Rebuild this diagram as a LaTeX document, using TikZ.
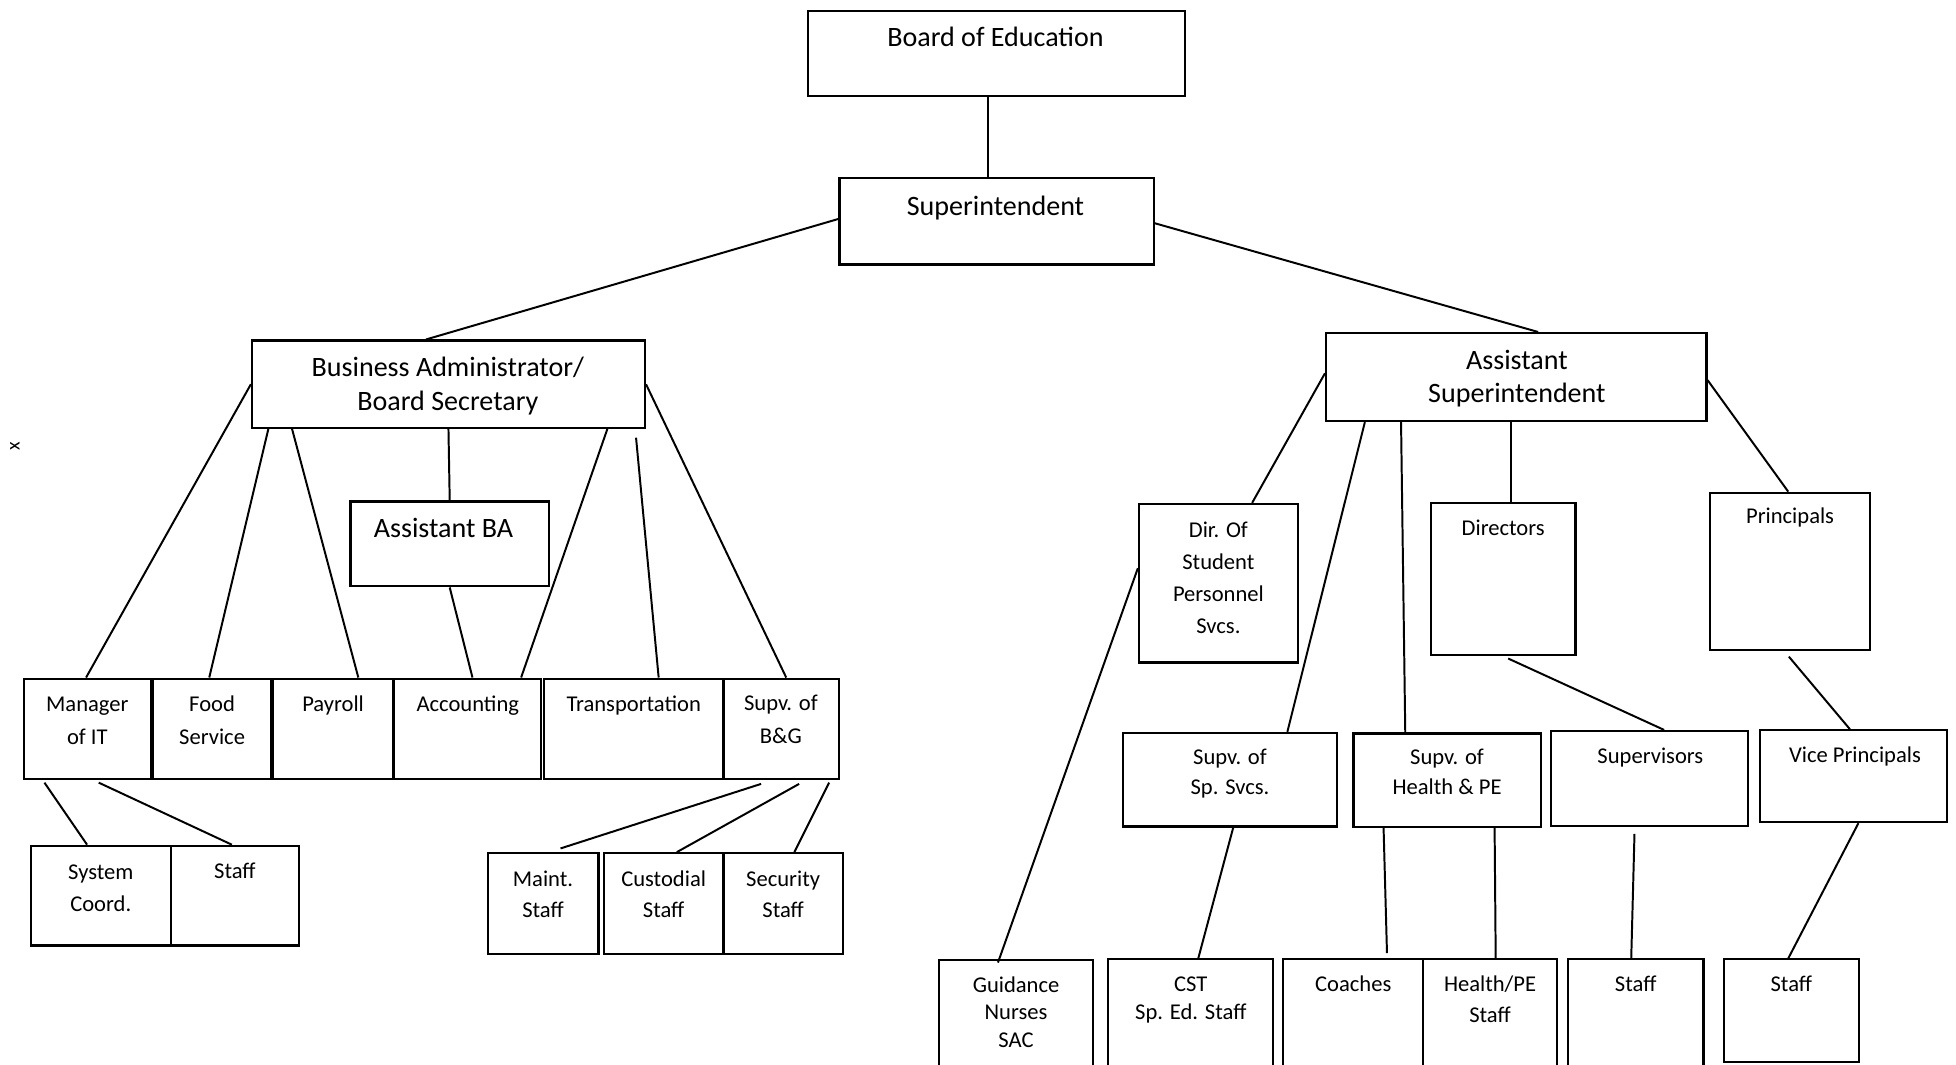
\documentclass[tikz,border=0pt]{standalone}
\usepackage{fontspec}
\setmainfont{Carlito}
\usetikzlibrary{fit,calc}
\begin{document}
\begin{tikzpicture}[x=0.02cm,y=-0.02cm,
  bx/.style={draw, inner sep=0pt, line width=1pt},
  big/.style={font=\fontsize{12.8pt}{#1pt}\selectfont, align=center, inner sep=0pt, anchor=base},
  sm/.style={font=\fontsize{10.3pt}{#1pt}\selectfont, align=center, inner sep=0pt, anchor=base},
  ln/.style={line width=0.9pt}]
\useasboundingbox[fill=white] (0,0) rectangle (1568,853);

% ---------- boxes ----------
\node[bx, fit={(648,9) (950,77)}] (board) {};
\node[bx, fit={(673,143) (925,212)}] (super) {};
\node[bx, fit={(202,273) (517,343)}] (ba) {};
\node[bx, fit={(281,402) (440,470)}] (aba) {};
\node[bx, fit={(19,544) (121,624.5)}] (mit) {};
\node[bx, fit={(122.5,544) (217,624.5)}] (food) {};
\node[bx, fit={(219,544) (315.5,624.5)}] (pay) {};
\node[bx, fit={(315.5,544) (434,624.5)}] (acc) {};
\node[bx, fit={(436,544) (580,624.5)}] (trans) {};
\node[bx, fit={(580,544) (672.5,624.5)}] (bg) {};
\node[bx, fit={(24.6,678) (137,758)}] (sys) {};
\node[bx, fit={(137,678) (239.7,758)}] (stfa) {};
\node[bx, fit={(391,684) (479.7,765)}] (maint) {};
\node[bx, fit={(484,684) (580,765)}] (cust) {};
\node[bx, fit={(580,684) (675.6,765)}] (sec) {};

\node[bx, fit={(1063,267) (1368,337.5)}] (asupt) {};
\node[bx, fit={(913,404) (1040.5,531)}] (dsp) {};
\node[bx, fit={(1147,403) (1263,525)}] (dirs) {};
\node[bx, fit={(1371,395) (1499,521)}] (princ) {};
\node[bx, fit={(900.5,587.5) (1071.5,662.5)}] (ssp) {};
\node[bx, fit={(1085,588) (1235,663)}] (she) {};
\node[bx, fit={(1243,586) (1401.5,662)}] (sups) {};
\node[bx, fit={(1411,585.5) (1560.5,659)}] (vp) {};
\node[bx, fit={(753,769.5) (876,857)}] (guid) {};
\node[bx, fit={(888.5,769) (1020.7,857)}] (cst) {};
\node[bx, fit={(1028.7,769) (1141,857)}] (coach) {};
\node[bx, fit={(1141,769) (1248,857)}] (hpe) {};
\node[bx, fit={(1257,769) (1365.5,857)}] (stfc) {};
\node[bx, fit={(1382,769) (1490,851.5)}] (stfd) {};

% ---------- texts (anchor = baseline of the last line) ----------
\node[big=15.3] (board-t) at (798,37.5) {Board of Education};
\node[big=15.3] (super-t) at (798,172.5) {Superintendent};
\node[big=15.3] (ba-t) at (359,329) {Business Administrator/\\Board Secretary};
\node[big=15.3] (aba-t) at (355.5,431) {Assistant BA};
\node[big=15.0] (asupt-t) at (1216,322.5) {Assistant\\Superintendent};

\node[sm=15.0] (mit-t) at (70,596.5) {Manager\\of IT};
\node[sm=15.0] (food-t) at (170,596.5) {Food\\Service};
\node[sm=15.0] (pay-t) at (267,570) {Payroll};
\node[sm=15.0] (acc-t) at (375,570) {Accounting};
\node[sm=15.0] (trans-t) at (508,570) {Transportation};
\node[sm=15.0] (bg-t) at (626,596) {Supv. of\\B\&G};
\node[sm=14.9] (sys-t) at (80.8,730.9) {System\\Coord.};
\node[sm=14.9] (stfa-t) at (188.3,704) {Staff};
\node[sm=13.9] (maint-t) at (435.3,735.4) {Maint.\\Staff};
\node[sm=13.9] (cust-t) at (532,735.4) {Custodial\\Staff};
\node[sm=13.9] (sec-t) at (627.8,735.4) {Security\\Staff};

\node[sm=14.7] (dsp-t) at (976.7,508) {Dir. Of\\Student\\Personnel\\Svcs.};
\node[sm=14.7] (dirs-t) at (1205,429) {Directors};
\node[sm=14.7] (princ-t) at (1435,420) {Principals};
\node[sm=13.3] (ssp-t) at (986,636.5) {Supv. of\\Sp. Svcs.};
\node[sm=13.6] (she-t) at (1160,637) {Supv. of\\Health \& PE};
\node[sm=13.6] (sups-t) at (1323,612) {Supervisors};
\node[sm=13.6] (vp-t) at (1487,611) {Vice Principals};
\node[sm=12.5] (guid-t) at (814.5,839.6) {Guidance\\Nurses\\SAC};
\node[sm=12.6] (cst-t) at (954.6,817.2) {CST\\Sp. Ed. Staff};
\node[sm=14.2] (coach-t) at (1084.8,795) {Coaches};
\node[sm=14.2] (hpe-t) at (1194.5,820) {Health/PE\\Staff};
\node[sm=14.2] (stfc-t) at (1311.2,795) {Staff};
\node[sm=14.2] (stfd-t) at (1436,795) {Staff};

\node[font=\fontsize{9pt}{10pt}\selectfont, rotate=90, inner sep=0pt] (xmark) at (12,358) {x};

% ---------- connectors ----------
\draw[ln] ($(board.south)+(-7,0)$) -- ($(super.north)+(-7,0)$);
\draw[ln] ($(super.west)+(0,-2)$) -- ($(ba.north)+(-18,0)$);
\draw[ln] ($(super.east)+(0,1.5)$) -- ($(asupt.north)+(17.5,0)$);

\draw[ln] (ba.west) -- ($(mit.north)+(-1,0)$);
\draw[ln] ($(ba.south west)+(14,0)$) -- ($(food.north)+(-2,0)$);
\draw[ln] ($(ba.south west)+(33,0)$) -- ($(pay.north)+(20,0)$);
\draw[ln] (ba.south) -- (aba.north);
\draw[ln] (aba.south) -- ($(acc.north)+(4,0)$);
\draw[ln] ($(ba.south east)+(-31,0)$) -- ($(acc.north)+(43,0)$);
\draw[ln] ($(ba.south east)+(-8,7)$) -- ($(trans.north)+(20,0)$);
\draw[ln] (ba.east) -- ($(bg.north)+(4,0)$);

\draw[ln] ($(mit.south west)+(17.5,2)$) -- ($(sys.north)+(-11,0)$);
\draw[ln] ($(mit.south west)+(61,2)$) -- ($(stfa.north)+(-2.5,0)$);
\draw[ln] ($(bg.south west)+(31,3)$) -- ($(maint.north)+(14,-3)$);
\draw[ln] ($(bg.south west)+(61.5,3)$) -- ($(cust.north)+(10.5,0)$);
\draw[ln] ($(bg.south west)+(85.5,2)$) -- ($(sec.north)+(9,0)$);

\draw[ln] ($(asupt.west)+(0,-3)$) -- ($(dsp.north)+(27,0)$);
\draw[ln] ($(dsp.west)+(0,-12)$) -- ($(guid.north)+(-14.5,3)$);
\draw[ln] ($(asupt.south west)+(32,0)$) -- ($(ssp.north)+(46,0)$);
\draw[ln] ($(asupt.south west)+(61,0)$) -- ($(she.north)+(-33.5,0)$);
\draw[ln] ($(asupt.south)+(-4.5,0)$) -- ($(dirs.north)+(6,0)$);
\draw[ln] ($(asupt.east)+(0,2.5)$) -- ($(princ.north)+(-1.5,0)$);
\draw[ln] ($(dirs.south)+(4,2)$) -- ($(sups.north)+(11.75,0)$);
\draw[ln] ($(princ.south)+(-1,4.5)$) -- ($(vp.north)+(-2.75,0)$);
\draw[ln] ($(ssp.south)+(2.6,0)$) -- ($(cst.north)+(6,0)$);
\draw[ln] ($(she.south west)+(25,0)$) -- ($(coach.north)+(27,-4)$);
\draw[ln] ($(she.south west)+(114,0)$) -- ($(hpe.north)+(4.5,0)$);
\draw[ln] ($(sups.south)+(-12,5.5)$) -- ($(stfc.north)+(-3.6,0)$);
\draw[ln] ($(vp.south)+(4,0)$) -- ($(stfd.north)+(-2.4,0)$);
\end{tikzpicture}
\end{document}
